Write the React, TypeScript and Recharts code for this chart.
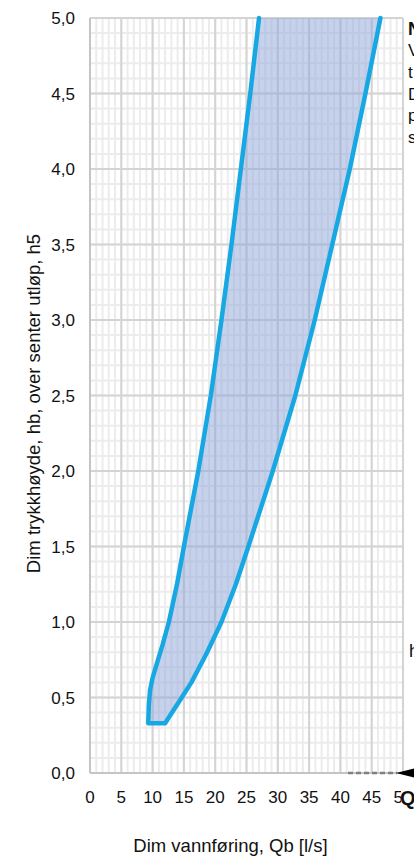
import React from 'react';
import { ScatterChart, Scatter, XAxis, YAxis, CartesianGrid } from 'recharts';

// Left boundary curve (Dim vannføring Q [l/s] vs trykkhøyde h)
const leftH = [0.33, 0.45, 0.55, 0.63, 0.7, 0.85, 1.0, 1.25, 1.5, 2.0, 2.5, 3.0, 3.5, 4.0, 4.5, 5.0];
const leftQ = [9.3, 9.4, 9.6, 10.0, 10.5, 11.6, 12.6, 13.9, 15.0, 17.3, 19.3, 21.0, 22.6, 24.1, 25.6, 27.0];
// Right boundary curve
const rightH = [0.33, 0.4, 0.48, 0.6, 0.79, 1.0, 1.25, 1.5, 2.0, 2.5, 3.0, 3.5, 4.0, 4.5, 5.0];
const rightQ = [12.0, 13.1, 14.35, 16.2, 18.6, 21.0, 23.3, 25.3, 29.2, 32.8, 35.9, 38.7, 41.5, 44.0, 46.4];

const xTicks = [0, 5, 10, 15, 20, 25, 30, 35, 40, 45, 50];
const yTicks = [0, 0.5, 1.0, 1.5, 2.0, 2.5, 3.0, 3.5, 4.0, 4.5, 5.0];
const xMinor = Array.from({ length: 51 }, (_, i) => i);
const yMinor = Array.from({ length: 51 }, (_, i) => i / 10);

const xTitle = 'Dim vannføring, Qb [l/s]';
const yTitle = 'Dim trykkhøyde, hb, over senter utløp, h5';

const leftPts = leftQ.map((q, i) => ({ q, h: leftH[i] }));
const rightPts = rightQ.map((q, i) => ({ q, h: rightH[i] }));
const polygon = [...leftPts, ...rightPts.slice().reverse()];
const outline = [...leftPts.slice().reverse(), ...rightPts];

const FONT = '"Liberation Sans", Arial, sans-serif';
// whole page area (body margin removed, chart drawn from page origin)
const W = 414;
const H = 857;
const M = { top: 18, right: 11, bottom: 0, left: 18 };
const Y_AXIS_W = 72;
const X_AXIS_H = 84;

const Empty = () => <g />;

const fmtY = (v: number) => v.toFixed(1).replace('.', ',');

const YTitle = () => {
  const cx = 33;
  const cy = M.top + (H - M.top - X_AXIS_H) / 2 + 8;
  return (
    <text
      x={cx}
      y={cy}
      transform={`rotate(-90 ${cx} ${cy})`}
      textAnchor="middle"
      dominantBaseline="central"
      fontSize={18.5}
      fill="#111"
      fontFamily={FONT}
    >
      {yTitle}
    </text>
  );
};

const XTitle = () => {
  const plotL = M.left + Y_AXIS_W;
  const plotR = W - M.right;
  const cx = (plotL + plotR) / 2 - 16;
  const y = H - X_AXIS_H + 79;
  return (
    <text x={cx} y={y} textAnchor="middle" fontSize={18.5} fill="#111" fontFamily={FONT}>
      {xTitle}
    </text>
  );
};

export default function App() {
  return (
    <div
      style={{
        position: 'relative',
        width: W,
        height: H,
        overflow: 'hidden',
        fontFamily: FONT,
      }}
    >
      <style>{'html,body{margin:0;padding:0;overflow:hidden;}'}</style>
      <ScatterChart width={W} height={H} margin={M}>
        <CartesianGrid stroke="#ececec" strokeWidth={2} horizontalValues={yMinor} verticalValues={xMinor} />
        <CartesianGrid stroke="#d4d4d4" strokeWidth={2} horizontalValues={yTicks} verticalValues={xTicks} />
        <XAxis
          type="number"
          dataKey="q"
          domain={[0, 50]}
          ticks={xTicks}
          interval={0}
          tickLine={false}
          tickSize={0}
          tickMargin={18}
          height={X_AXIS_H}
          axisLine={{ stroke: '#c4c4c4', strokeWidth: 2 }}
          tick={{ fontSize: 17, fill: '#111' }}
          label={{ content: XTitle }}
        />
        <YAxis
          type="number"
          dataKey="h"
          domain={[0, 5]}
          ticks={yTicks}
          interval={0}
          tickLine={false}
          tickSize={0}
          tickMargin={15}
          width={Y_AXIS_W}
          axisLine={{ stroke: '#c4c4c4', strokeWidth: 2 }}
          tick={{ fontSize: 17, fill: '#111' }}
          tickFormatter={fmtY}
          label={{ content: YTitle }}
        />
        <Scatter
          data={polygon}
          line={{ fill: 'rgba(142,166,217,0.5)', stroke: 'none' }}
          lineType="joint"
          lineJointType="linearClosed"
          shape={Empty}
          isAnimationActive={false}
        />
        <Scatter
          data={outline}
          line={{ stroke: '#17a8e3', strokeWidth: 4.5, strokeLinejoin: 'round', strokeLinecap: 'round', fill: 'none' }}
          lineType="joint"
          lineJointType="linear"
          shape={Empty}
          isAnimationActive={false}
        />
      </ScatterChart>
      <svg
        width={W}
        height={H}
        style={{ position: 'absolute', left: 0, top: 0, pointerEvents: 'none', overflow: 'hidden' }}
      >
        <g fontFamily={FONT} fill="#111">
          <text x={408} y={35} fontSize={18} fontWeight="bold">N</text>
          <text x={408} y={56} fontSize={17}>V</text>
          <text x={408} y={78} fontSize={17}>t</text>
          <text x={408} y={100} fontSize={17}>D</text>
          <text x={408} y={121} fontSize={17}>p</text>
          <text x={408} y={143} fontSize={17}>s</text>
          <text x={409} y={657} fontSize={18}>h</text>
        </g>
        <line x1={348} y1={773} x2={397} y2={773} stroke="#808080" strokeWidth={2.5} strokeDasharray="5 3" />
        <polygon points="396,773 418,767.5 418,778.5" fill="#000" />
        <rect x={401} y={785} width={16} height={26} fill="#fff" />
        <text x={400} y={805} fontSize={20} fontWeight="bold" fontFamily={FONT} fill="#111">Q</text>
      </svg>
    </div>
  );
}
